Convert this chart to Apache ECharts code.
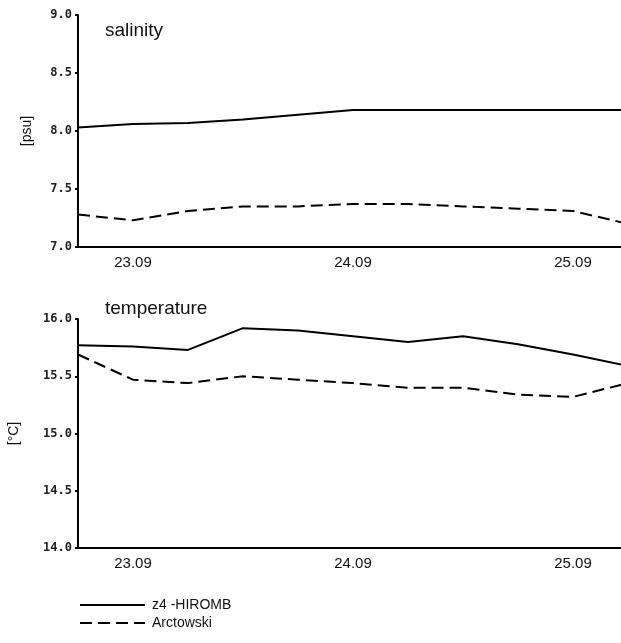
<!DOCTYPE html>
<html><head><meta charset="utf-8">
<script src="https://cdn.jsdelivr.net/npm/echarts@6/dist/echarts.min.js"></script>
<style>html,body{margin:0;padding:0;background:#fff}#c{width:621px;height:643px}</style>
</head><body><div id="c"></div>
<script>
// hours relative to 23.09 00:00, 6-hour steps
const hours = [-6, 0, 6, 12, 18, 24, 30, 36, 42, 48, 54];
const dayLabels = {0: '23.09', 24: '24.09', 48: '25.09'};
const salHiromb = [8.03, 8.06, 8.07, 8.10, 8.14, 8.18, 8.18, 8.18, 8.18, 8.18, 8.18];
const salArctowski = [7.28, 7.23, 7.31, 7.35, 7.35, 7.37, 7.37, 7.35, 7.33, 7.31, 7.20];
const tempHiromb = [15.77, 15.76, 15.73, 15.92, 15.90, 15.85, 15.80, 15.85, 15.78, 15.69, 15.59];
const tempArctowski = [15.69, 15.47, 15.44, 15.50, 15.47, 15.44, 15.40, 15.40, 15.34, 15.32, 15.44];
const seriesNames = ['z4 -HIROMB', 'Arctowski'];

const pair = (xs, ys) => xs.map((x, i) => [x, ys[i]]);
const chart = echarts.init(document.getElementById('c'));
const xAxisBase = (gi) => ({
  type: 'value', gridIndex: gi, min: -6, max: 54, interval: 6,
  axisLine: {onZero: false, lineStyle: {color: '#000', width: 2}},
  axisTick: {show: false}, splitLine: {show: false},
  axisLabel: {formatter: v => dayLabels[v] || '', color: '#111', fontSize: 15,
    fontFamily: 'Liberation Sans', margin: 8}
});
const yAxisBase = (gi, min, max, name, nameGap) => ({
  type: 'value', gridIndex: gi, min: min, max: max, interval: 0.5,
  name: name, nameLocation: 'middle', nameGap: nameGap, nameRotate: 90,
  nameTextStyle: {color: '#111', fontSize: 14, fontFamily: 'Liberation Sans'},
  axisLine: {show: true, onZero: false, lineStyle: {color: '#000', width: 2}},
  axisTick: {show: true, length: 3, lineStyle: {color: '#000', width: 2}},
  splitLine: {show: false},
  axisLabel: {formatter: v => v.toFixed(1), color: '#222', fontSize: 12,
    fontFamily: 'DejaVu Sans Mono', fontWeight: 'bold', margin: 6}
});
const lineSeries = (name, gi, data, dashed) => ({
  name: name, type: 'line', xAxisIndex: gi, yAxisIndex: gi, data: data,
  symbol: 'none', silent: true, animation: false,
  lineStyle: {color: '#000', width: 2, type: dashed ? [12, 6] : 'solid'},
  itemStyle: {color: '#000'}
});
chart.setOption({
  animation: false,
  grid: [
    {left: 78, top: 15, height: 232, width: 550, outerBoundsMode: 'none', containLabel: false},
    {left: 78, top: 319, height: 229, width: 550, outerBoundsMode: 'none', containLabel: false}
  ],
  title: [
    {text: 'salinity', left: 100, top: 16, textStyle: {fontSize: 19, fontWeight: 'normal', color: '#111', fontFamily: 'Liberation Sans'}},
    {text: 'temperature', left: 100, top: 294, textStyle: {fontSize: 19, fontWeight: 'normal', color: '#111', fontFamily: 'Liberation Sans'}}
  ],
  legend: {
    orient: 'vertical', left: 74, top: 593, itemWidth: 65, itemHeight: 12, itemGap: 4,
    data: seriesNames.slice(),
    itemStyle: {opacity: 0},
    textStyle: {fontSize: 14, color: '#111', fontFamily: 'Liberation Sans', padding: [0, 0, 0, 2]},
    selectedMode: false
  },
  xAxis: [xAxisBase(0), xAxisBase(1)],
  yAxis: [yAxisBase(0, 7, 9, '[psu]', 44), yAxisBase(1, 14, 16, '[°C]', 57)],
  series: [
    lineSeries(seriesNames[0], 0, pair(hours, salHiromb), false),
    lineSeries(seriesNames[1], 0, pair(hours, salArctowski), true),
    lineSeries(seriesNames[0], 1, pair(hours, tempHiromb), false),
    lineSeries(seriesNames[1], 1, pair(hours, tempArctowski), true)
  ]
});
</script></body></html>
